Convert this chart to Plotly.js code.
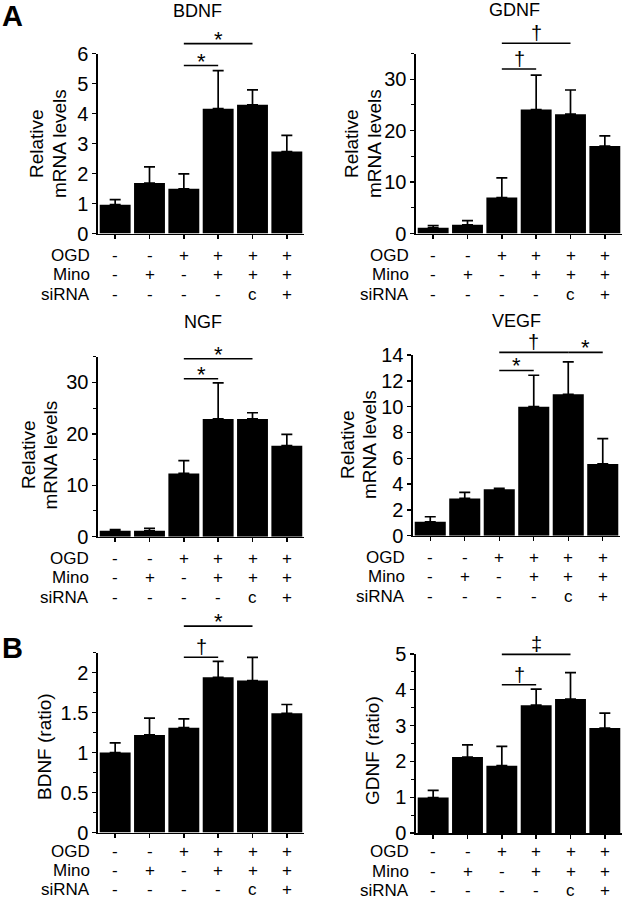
<!DOCTYPE html>
<html>
<head>
<meta charset="utf-8">
<script src="https://cdn.plot.ly/plotly-3.0.1.min.js"></script>
<style>html,body{margin:0;padding:0;background:#fff;}#chart{width:623px;height:899px;}</style>
</head>
<body>
<div id="chart"></div>
<script>
// ---------------- DATA ----------------
const categories = ['Control', 'Mino', 'OGD', 'OGD+Mino', 'OGD+Mino+siCtrl', 'OGD+Mino+siRNA'];
const rowLabels = ['OGD', 'Mino', 'siRNA'];
const ogdRow   = ['-', '-', '+', '+', '+', '+'];
const minoRow  = ['-', '+', '-', '+', '+', '+'];
const sirnaRow = ['-', '-', '-', '-', 'c', '+'];

const panelTitles = ['BDNF', 'GDNF', 'NGF', 'VEGF', '', ''];

// A: relative mRNA levels (mean, SEM)
const bdnfMrna    = [0.96, 1.68, 1.49, 4.16, 4.29, 2.73];
const bdnfMrnaErr = [0.17, 0.54, 0.50, 1.27, 0.50, 0.54];
const gdnfMrna    = [1.1, 1.7, 7.0, 24.1, 23.2, 17.0];
const gdnfMrnaErr = [0.45, 0.8, 3.8, 6.7, 4.7, 2.0];
const ngfMrna     = [1.15, 1.15, 12.3, 22.9, 22.9, 17.7];
const ngfMrnaErr  = [0.25, 0.45, 2.5, 7.0, 1.2, 2.2];
const vegfMrna    = [1.08, 2.89, 3.59, 10.0, 10.96, 5.56];
const vegfMrnaErr = [0.39, 0.47, 0.08, 2.43, 2.5, 1.96];
// B: protein ratio (mean, SEM)
const bdnfRatio    = [1.0, 1.22, 1.31, 1.94, 1.90, 1.49];
const bdnfRatioErr = [0.12, 0.21, 0.11, 0.20, 0.29, 0.11];
const gdnfRatio    = [0.99, 2.12, 1.88, 3.57, 3.74, 2.93];
const gdnfRatioErr = [0.20, 0.34, 0.54, 0.45, 0.74, 0.42];

// significance marks: [from index, to index, symbol]
const sigBdnfMrna = [[2, 3, '*'], [2, 4, '*']];
const sigGdnfMrna = [[2, 3, '\u2020'], [2, 4, '\u2020']];
const sigNgfMrna  = [[2, 3, '*'], [2, 4, '*']];
const sigVegfMrna = [[2, 3, '*'], [2, 4, '\u2020'], [4, 5, '*']];
const sigBdnfRatio = [[2, 3, '\u2020'], [2, 4, '*']];
const sigGdnfRatio = [[2, 3, '\u2020'], [2, 4, '\u2021']];

// ---------------- LAYOUT CONFIG ----------------
const W = 623, H = 899;
const FONT = 'Liberation Sans, Arial, Helvetica, sans-serif';
const ROWF = 17, TICKF = 20, YTF = 19;

const panels = [
  {vals: bdnfMrna, err: bdnfMrnaErr, sig: sigBdnfMrna, sigH: [5.6, 6.33],
   px: {l: 98, r: 304, b: 233.5, t: 53.5}, range: [0, 6], dtick: 1, minor: null,
   title: panelTitles[0], titleXY: [197, 11],
   ytitle: [['Relative', 36, 144], ['mRNA levels', 59, 144]],
   rowOff: [21.5, 41, 60.5], rowLabelX: 92},
  {vals: gdnfMrna, err: gdnfMrnaErr, sig: sigGdnfMrna, sigH: [32.0, 37.0],
   px: {l: 416, r: 622, b: 233.5, t: 53.5}, range: [0, 35], dtick: 10, minor: 5,
   title: panelTitles[1], titleXY: [514, 10],
   ytitle: [['Relative', 351, 144], ['mRNA levels', 374, 144]],
   rowOff: [21.5, 41, 60.5], rowLabelX: 411},
  {vals: ngfMrna, err: ngfMrnaErr, sig: sigNgfMrna, sigH: [30.7, 34.6],
   px: {l: 98, r: 304, b: 536.7, t: 356.7}, range: [0, 35], dtick: 10, minor: 5,
   title: panelTitles[2], titleXY: [203, 322],
   ytitle: [['Relative', 28, 455], ['mRNA levels', 49.5, 455]],
   rowOff: [21.5, 41, 60.5], rowLabelX: 91},
  {vals: vegfMrna, err: vegfMrnaErr, sig: sigVegfMrna, sigH: [12.8, 14.2, 14.2],
   px: {l: 413, r: 620, b: 535.7, t: 355}, range: [0, 14], dtick: 2, minor: null,
   title: panelTitles[3], titleXY: [516, 321],
   ytitle: [['Relative', 347, 445], ['mRNA levels', 369, 445]],
   rowOff: [21.5, 41, 60.5], rowLabelX: 407},
  {vals: bdnfRatio, err: bdnfRatioErr, sig: sigBdnfRatio, sigH: [2.19, 2.58],
   px: {l: 98, r: 304, b: 832.5, t: 652.5}, range: [0, 2.25], dtick: 0.5, minor: 0.25,
   title: panelTitles[4], titleXY: [0, 0],
   ytitle: [['BDNF (ratio)', 44, 747]],
   rowOff: [18.5, 37.8, 57.1], rowLabelX: 92},
  {vals: gdnfRatio, err: gdnfRatioErr, sig: sigGdnfRatio, sigH: [4.14, 4.99],
   px: {l: 416, r: 622, b: 833, t: 654}, range: [0, 5], dtick: 1, minor: 0.5,
   title: panelTitles[5], titleXY: [0, 0],
   ytitle: [['GDNF (ratio)', 372, 751]],
   rowOff: [18.8, 38, 57.2], rowLabelX: 411}
];

const rows = [ogdRow, minoRow, sirnaRow];
const data = [];
const layout = {
  width: W, height: H,
  margin: {l: 0, r: 0, t: 0, b: 0, pad: 0},
  paper_bgcolor: '#fff', plot_bgcolor: 'rgba(0,0,0,0)',
  showlegend: false, bargap: 0.1,
  font: {family: FONT, size: TICKF, color: '#000'},
  annotations: [], shapes: []
};

const px2x = v => v / W;
const px2y = v => 1 - v / H;

panels.forEach((p, i) => {
  const n = i + 1;
  const xa = 'x' + (n === 1 ? '' : n), ya = 'y' + (n === 1 ? '' : n);
  const xk = 'xaxis' + (n === 1 ? '' : n), yk = 'yaxis' + (n === 1 ? '' : n);
  const yd = [px2y(p.px.b), px2y(p.px.t)];

  data.push({
    type: 'bar', x: categories, y: p.vals, xaxis: xa, yaxis: ya,
    marker: {color: '#000', line: {width: 0}},
    error_y: {type: 'data', symmetric: false, array: p.err,
              arrayminus: p.err.map(() => 0), color: '#000', thickness: 1.7, width: 5.5},
    hoverinfo: 'x+y'
  });

  layout[xk] = {
    domain: [px2x(p.px.l), px2x(p.px.r)], anchor: ya, type: 'category',
    range: [-0.5, 5.5], showline: true, linecolor: '#000', linewidth: 1.6,
    ticks: 'outside', ticklen: 4, tickwidth: 1.4, tickcolor: '#000',
    showticklabels: false, showgrid: false, zeroline: false, fixedrange: true
  };
  const yax = {
    domain: yd, anchor: xa, range: p.range, tick0: 0, dtick: p.dtick,
    showline: true, linecolor: '#000', linewidth: 1.6,
    ticks: 'outside', ticklen: 4, tickwidth: 1.4, tickcolor: '#000',
    tickfont: {family: FONT, size: TICKF, color: '#000'},
    showgrid: false, zeroline: false, fixedrange: true
  };
  if (p.minor) yax.minor = {dtick: p.minor, tick0: 0, ticks: 'outside', ticklen: 3, tickwidth: 1, tickcolor: '#000', showgrid: false};
  layout[yk] = yax;

  const toPaper = v => yd[0] + (v - p.range[0]) / (p.range[1] - p.range[0]) * (yd[1] - yd[0]);

  // title
  if (p.title) layout.annotations.push({
    text: p.title, xref: 'paper', yref: 'paper', x: px2x(p.titleXY[0]), y: px2y(p.titleXY[1]),
    xanchor: 'center', yanchor: 'middle', showarrow: false, font: {family: FONT, size: 18}
  });
  // y titles
  p.ytitle.forEach(t => layout.annotations.push({
    text: t[0], xref: 'paper', yref: 'paper', x: px2x(t[1]), y: px2y(t[2]),
    xanchor: 'center', yanchor: 'middle', textangle: -90, showarrow: false,
    font: {family: FONT, size: YTF}
  }));
  // condition table
  rows.forEach((r, ri) => {
    const yy = px2y(p.px.b + p.rowOff[ri]);
    layout.annotations.push({
      text: rowLabels[ri], xref: 'paper', yref: 'paper', x: px2x(p.rowLabelX), y: yy,
      xanchor: 'right', yanchor: 'middle', showarrow: false, font: {family: FONT, size: ROWF}
    });
    r.forEach((s, ci) => layout.annotations.push({
      text: s, xref: xa, yref: 'paper', x: ci, y: yy,
      xanchor: 'center', yanchor: 'middle', showarrow: false, font: {family: FONT, size: ROWF}
    }));
  });
  // significance brackets
  p.sig.forEach((s, si) => {
    const yy = toPaper(p.sigH[si]);
    layout.shapes.push({type: 'line', xref: xa, yref: 'paper', x0: s[0], x1: s[1], y0: yy, y1: yy,
      line: {color: '#000', width: 1.6}});
    const isStar = s[2] === '*';
    layout.annotations.push({
      text: s[2], xref: xa, yref: 'paper', x: (s[0] + s[1]) / 2, y: yy,
      xanchor: 'center', yanchor: 'bottom', yshift: isStar ? -10 : -3, showarrow: false,
      font: {family: FONT, size: isStar ? 22 : 20}
    });
  });
});

// panel letters
layout.annotations.push({text: '<b>A</b>', xref: 'paper', yref: 'paper', x: px2x(0), y: px2y(16),
  xanchor: 'left', yanchor: 'middle', showarrow: false, font: {family: FONT, size: 29}});
layout.annotations.push({text: '<b>B</b>', xref: 'paper', yref: 'paper', x: px2x(0), y: px2y(648),
  xanchor: 'left', yanchor: 'middle', showarrow: false, font: {family: FONT, size: 29}});

Plotly.newPlot('chart', data, layout, {staticPlot: true, displayModeBar: false});
</script>
</body>
</html>
